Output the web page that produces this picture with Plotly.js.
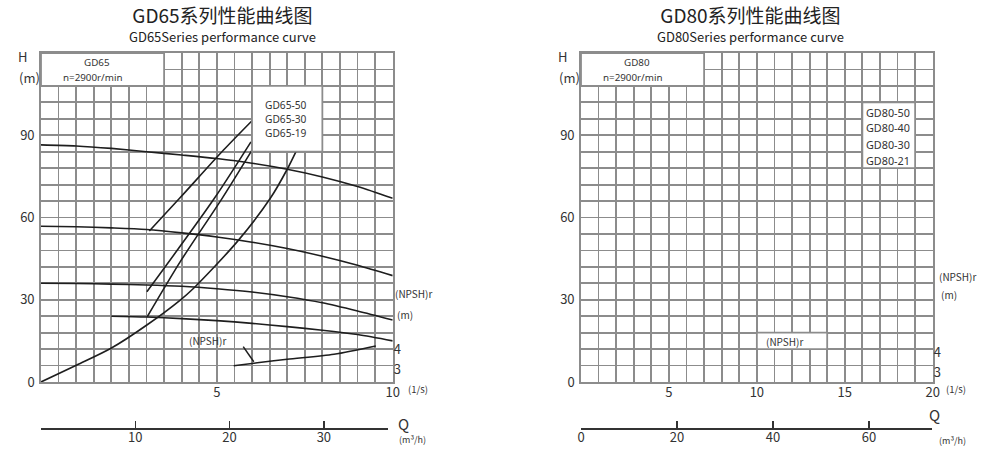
<!DOCTYPE html>
<html><head><meta charset="utf-8">
<script src="https://cdn.plot.ly/plotly-3.0.1.min.js"></script>
<style>html,body{margin:0;padding:0;background:#fff}#chart{width:998px;height:462px}</style>
</head><body><div id="chart"></div>
<script>
// ---------- data (left chart: Q in L/s, H in m) ----------
const hqA_q = [0, 1, 2, 3, 4, 5, 6, 7, 8, 9, 10];
const hqA_h = [86.5, 86.1, 85.2, 84.0, 82.8, 81.5, 79.8, 77.6, 74.8, 71.3, 67.0];
const hqB_q = [0, 1, 2, 3, 4, 5, 6, 7, 8, 9, 10];
const hqB_h = [56.8, 56.6, 56.2, 55.6, 54.4, 52.9, 51.0, 48.7, 45.9, 42.6, 38.8];
const hqC_q = [0, 1, 2, 3, 4, 5, 6, 7, 8, 9, 10];
const hqC_h = [36.0, 35.9, 35.7, 35.4, 34.9, 34.0, 32.8, 31.1, 28.9, 25.9, 22.6];
const hqD_q = [2, 3, 4, 5, 6, 7, 8, 9, 10];
const hqD_h = [24.0, 23.7, 23.1, 22.4, 21.4, 20.2, 18.9, 17.3, 15.0];
const lineA_q = [3.08, 3.94, 5.19, 6.0];
const lineA_h = [55.1, 67.0, 84.6, 95.3];
const lineB_q = [3.01, 4.93, 5.97];
const lineB_h = [32.9, 67.0, 87.6];
const lineC_q = [3.02, 3.96, 5.15, 6.0];
const lineC_h = [23.8, 43.9, 67.0, 84.6];
const sysCurve_q = [0, 1.02, 1.99, 3.01, 3.96, 4.34, 5.58, 6.52, 7.0, 7.27];
const sysCurve_h = [0, 6.2, 12.3, 20.8, 29.9, 34.2, 51.2, 67.0, 77.6, 84.6];
const npsh_q = [5.48, 6.15, 7.0, 8.33, 9.52];
const npsh_m = [3.17, 3.32, 3.50, 3.75, 4.17];

// ---------- tick labels / text ----------
const hTicks = [0, 30, 60, 90];
const qTicksL = [5, 10];
const qTicksR = [5, 10, 15, 20];
const npshTicks = [3, 4];
const m3hTicksL = [0, 10, 20, 30];
const m3hTextL = ['', '10', '20', '30'];
const m3hTicksR = [0, 20, 40, 60];
const m3hTextR = ['0', '20', '40', '60'];
const seriesNames = ['GD65', 'GD80'];
const modelsL = ['GD65-50', 'GD65-30', 'GD65-19'];
const modelsR = ['GD80-50', 'GD80-40', 'GD80-30', 'GD80-21'];
const titlesCN = ['GD65系列性能曲线图', 'GD80系列性能曲线图'];
const titlesEN = ['GD65Series performance curve', 'GD80Series performance curve'];

// ---------- styles ----------
const FONT = '"Noto Sans CJK SC", "Noto Sans", sans-serif';
const LFONT = '"Noto Sans", sans-serif';
const GRID = '#8c8c8c', GW = 1.8, INK = '#1e1e1e', TXT = '#333';
const W = 998, HH = 462;
const px = v => v / W, py = v => 1 - v / HH;
const yDom = [py(382), py(53)];

function curve(x, y, ax) {
  return {x: x, y: y, xaxis: ax[0], yaxis: ax[1], mode: 'lines', type: 'scatter',
    line: {color: INK, width: 1.6, shape: 'spline', smoothing: 0.8},
    hoverinfo: 'skip', showlegend: false};
}
function dummy(xa, ya) {
  return {x: [0], y: [0], xaxis: xa, yaxis: ya, mode: 'markers', marker: {opacity: 0},
    hoverinfo: 'skip', showlegend: false, type: 'scatter'};
}
const traces = [
  curve(hqA_q, hqA_h, ['x', 'y']),
  curve(hqB_q, hqB_h, ['x', 'y']),
  curve(hqC_q, hqC_h, ['x', 'y']),
  curve(hqD_q, hqD_h, ['x', 'y']),
  curve(lineA_q, lineA_h, ['x', 'y']),
  curve(lineB_q, lineB_h, ['x', 'y']),
  curve(lineC_q, lineC_h, ['x', 'y']),
  curve(sysCurve_q, sysCurve_h, ['x', 'y']),
  curve(npsh_q, npsh_m, ['x', 'y3']),
  dummy('x2', 'y2'), dummy('x2', 'y4'),
  dummy('x3', 'y5'), dummy('x4', 'y6')
];

function gridX(dom, range, tv, minorD) {
  return {domain: dom, range: range, tickvals: tv, ticks: '', showgrid: true, gridcolor: GRID, gridwidth: GW,
    minor: {dtick: minorD, tick0: 0, showgrid: true, gridcolor: GRID, gridwidth: GW, ticks: ''},
    showline: true, mirror: true, linecolor: GRID, linewidth: GW, zeroline: false,
    tickfont: {family: FONT, size: 13, color: TXT}, fixedrange: true};
}
function npshAxis(ov, anchor, range) {
  return {overlaying: ov, anchor: anchor, side: 'right', range: range, tickvals: npshTicks, ticks: '',
    showgrid: false, showline: false, zeroline: false, tickfont: {family: FONT, size: 13, color: TXT}};
}
function qAxis(dom, anchor, range, tv, tt) {
  return {domain: dom, anchor: anchor, range: range, tickvals: tv, ticktext: tt, ticks: 'inside', ticklen: 7,
    tickwidth: 1.5, tickcolor: '#333', showline: true, linecolor: '#333', linewidth: 1.5, showgrid: false,
    zeroline: false, ticklabelstandoff: -3, tickfont: {family: FONT, size: 13, color: TXT}};
}

const layout = {
  width: W, height: HH, margin: {l: 0, r: 0, t: 0, b: 0},
  paper_bgcolor: '#fff', plot_bgcolor: 'rgba(0,0,0,0)', showlegend: false,
  font: {family: FONT, color: TXT},
  xaxis: Object.assign(gridX([px(41), px(392.7)], [0, 10], qTicksL, 0.5), {anchor: 'y', ticklabelstandoff: -2}),
  yaxis: Object.assign(gridX(yDom, [0, 120], hTicks, 6), {anchor: 'x', ticklabelstandoff: 2}),
  xaxis2: Object.assign(gridX([px(581), px(932.7)], [0, 20], qTicksR, 1), {anchor: 'y2', ticklabelstandoff: -2}),
  yaxis2: Object.assign(gridX(yDom, [0, 120], hTicks, 6), {anchor: 'x2', ticklabelstandoff: 2}),
  yaxis3: npshAxis('y', 'x', [2.347, 19.01]),
  yaxis4: npshAxis('y2', 'x2', [2.534, 18.97]),
  xaxis3: qAxis([px(41), px(387.7)], 'y5', [0, 36.77], m3hTicksL, m3hTextL),
  xaxis4: qAxis([px(581), px(931.7)], 'y6', [0, 73.06], m3hTicksR, m3hTextR),
  yaxis5: {domain: [py(428), py(420)], anchor: 'x3', visible: false, range: [0, 1]},
  yaxis6: {domain: [py(428.3), py(420)], anchor: 'x4', visible: false, range: [0, 1]},
  shapes: [],
  annotations: []
};

function box(xr, yr, x0, x1, y0, y1) {
  layout.shapes.push({type: 'rect', xref: xr, yref: yr, x0: x0, x1: x1, y0: y0, y1: y1,
    fillcolor: '#fff', line: {color: GRID, width: GW}, layer: 'above'});
}
box('x', 'y', 0, 3.5, 108, 120);
box('x', 'y', 6, 8, 84, 108);
box('x2', 'y2', 0, 7, 108, 120);
box('x2', 'y2', 16, 19, 78, 102);
box('x2', 'y2', 10, 14, 12, 18);
layout.shapes.push({type: 'line', xref: 'x', yref: 'y', x0: 5.75, y0: 12.9, x1: 6.05, y1: 7.4,
  line: {color: INK, width: 1.5}, layer: 'above'});

function ann(text, x, y, size, opts) {
  layout.annotations.push(Object.assign({text: text, xref: 'paper', yref: 'paper', x: px(x), y: py(y),
    xanchor: 'center', yanchor: 'middle', showarrow: false, borderpad: 0,
    font: {family: FONT, size: size, color: TXT}}, opts || {}));
}
function lab(text, x, y, size) {
  ann(text, x, y, size, {font: {family: LFONT, size: size, color: TXT}});
}
// titles (Chinese + English in one block)
[[222.5, 0], [750, 1]].forEach(function (o) {
  const i = o[1];
  ann('<span style="font-size:19px">' + titlesCN[i] + '</span><br><span style="font-size:13px">' +
      titlesEN[i] + '</span>', o[0], 23, 14.5,
      {font: {family: FONT, size: 14.5, color: '#222'}});
});
// axis labels and info boxes
[0, 540].forEach(function (d, k) {
  ann('H', 22.7 + d, 57, 13);
  ann('(m)', 29 + d, 78, 13);
  lab(seriesNames[k], 96.7 + d, 63, 9.8);
  lab('n=2900r/min', 93 + d, 77.5, 9.8);
});
modelsL.forEach(function (m, i) { lab(m, 285.5, 105 + i * 14, 10.2); });
modelsR.forEach(function (m, i) { lab(m, 887.5, 112 + i * 16, 10.8); });
// right side / bottom labels
ann('(NPSH)r', 394.3, 293.3, 10, {xanchor: 'left'});
ann('(m)', 396, 314.3, 10, {xanchor: 'left'});
ann('(NPSH)r', 938.3, 276, 10, {xanchor: 'left'});
ann('(m)', 940, 294, 10, {xanchor: 'left'});
ann('(1/s)', 418, 389, 9.5);
ann('(1/s)', 956, 389.3, 9.5);
ann('Q', 403, 423, 15);
ann('Q', 934, 414, 15);
ann('(m³/h)', 412, 439.5, 9);
ann('(m³/h)', 952, 440, 9);
ann('(NPSH)r', 207.5, 340, 10);
ann('(NPSH)r', 765, 341.7, 10, {xanchor: 'left'});

Plotly.newPlot('chart', traces, layout, {staticPlot: true, displayModeBar: false});
</script>
</body></html>
